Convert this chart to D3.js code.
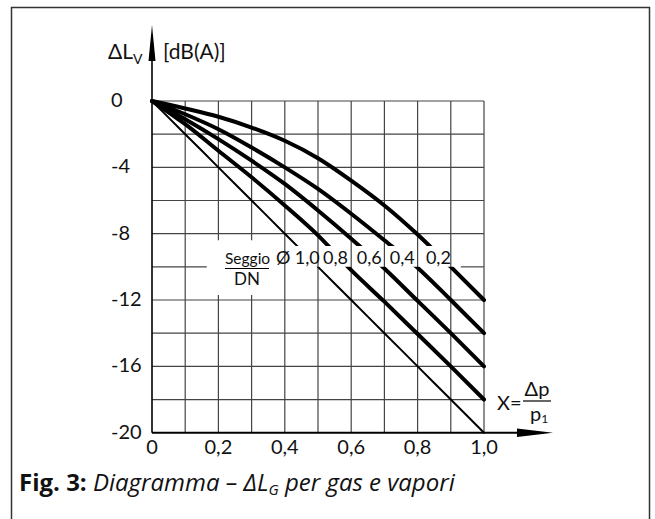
<html>
<head>
<meta charset="utf-8">
<title>Diagramma</title>
<style>
  body { margin: 0; background: #fff; }
  svg { display: block; }
  .lab { font-family: Lato, "Noto Sans", sans-serif; fill: #111; }
  .cap { font-family: "Open Sans", sans-serif; fill: #111; }
</style>
</head>
<body>
<script src="https://cdn.jsdelivr.net/npm/d3@7/dist/d3.min.js"></script>
<script>
var W = 655, H = 519;

// dati
var xVals   = [0, 0.1, 0.2, 0.3, 0.4, 0.5, 0.6, 0.7, 0.8, 0.9, 1.0];
var seat10  = [0, -2, -4, -6, -8, -10, -12, -14, -16, -18, -20];
var seat08  = [0, -1.4, -3.0, -4.6, -6.3, -8.1, -10.2, -12.1, -14.05, -16, -18];
var seat06  = [0, -1.1, -2.3, -3.6, -5.0, -6.6, -8.3, -10.1, -12.05, -14, -16];
var seat04  = [0, -0.8, -1.7, -2.8, -4.0, -5.3, -6.8, -8.4, -10.05, -12, -14];
var seat02  = [0, -0.45, -0.95, -1.6, -2.4, -3.45, -4.8, -6.3, -8.05, -10, -12];
var seatNames = ["1,0", "0,8", "0,6", "0,4", "0,2"];
var xTicks  = [0, 0.2, 0.4, 0.6, 0.8, 1.0];
var xTickLabels = ["0", "0,2", "0,4", "0,6", "0,8", "1,0"];
var yTicks  = [0, -4, -8, -12, -16, -20];
var yTickLabels = ["0", "-4", "-8", "-12", "-16", "-20"];

var series = [seat10, seat08, seat06, seat04, seat02];
var widths = [2, 4, 4, 4, 4];
var labelX = [0.43, 0.515, 0.617, 0.716, 0.825];   // dove stanno le etichette

var svg = d3.select("body").append("svg")
  .attr("width", W)
  .attr("height", H);

// cornice
svg.append("rect")
  .attr("x", 11.5).attr("y", 7.5)
  .attr("width", 638).attr("height", 530)
  .attr("fill", "none").attr("stroke", "#333").attr("stroke-width", 1.5);

var x = d3.scaleLinear().domain([0, 1]).range([152, 484]);
var y = d3.scaleLinear().domain([0, -20]).range([101, 432.7]);

// griglia
var grid = svg.append("g").attr("stroke", "#444").attr("stroke-width", 1.2);
d3.range(1, 11).forEach(function(i) {
  var v = i / 10;
  if (i == 2 || i == 3) {
    grid.append("line").attr("x1", x(v)).attr("x2", x(v)).attr("y1", y(0)).attr("y2", y(-8.4));
    grid.append("line").attr("x1", x(v)).attr("x2", x(v)).attr("y1", y(-11.7)).attr("y2", y(-20));
  } else {
    grid.append("line").attr("x1", x(v)).attr("x2", x(v)).attr("y1", y(0)).attr("y2", y(-20));
  }
});
d3.range(0, 10).forEach(function(i) {
  var v = -2 * i;
  if (v == -10) {
    grid.append("line").attr("x1", x(0)).attr("x2", x(0.165)).attr("y1", y(v)).attr("y2", y(v));
    grid.append("line").attr("x1", x(0.93)).attr("x2", x(1)).attr("y1", y(v)).attr("y2", y(v));
  } else {
    grid.append("line").attr("x1", x(0)).attr("x2", x(1)).attr("y1", y(v)).attr("y2", y(v));
  }
});

// assi con frecce
svg.append("line").attr("x1", x(0)).attr("x2", x(0)).attr("y1", y(-20)).attr("y2", 40)
  .attr("stroke", "#000").attr("stroke-width", 1.6);
svg.append("path").attr("d", "M152,25 L148.5,61 L155.5,61 Z").attr("fill", "#000");
svg.append("line").attr("x1", x(0)).attr("x2", 530).attr("y1", y(-20)).attr("y2", y(-20))
  .attr("stroke", "#000").attr("stroke-width", 2);
svg.append("path").attr("d", "M553,432.7 L517,428.5 L517,437 Z").attr("fill", "#000");

// curve, interrotte dove stanno le etichette
var clip = svg.append("clipPath").attr("id", "gap");
clip.append("rect").attr("x", 140).attr("y", 90).attr("width", 360).attr("height", y(-8.75) - 90);
clip.append("rect").attr("x", 140).attr("y", y(-10)).attr("width", 360).attr("height", 200);

var line = d3.line()
  .x(function(d, i) { return x(xVals[i]); })
  .y(function(d) { return y(d); })
  .curve(d3.curveMonotoneX);

svg.append("g").attr("clip-path", "url(#gap)")
  .selectAll("path")
  .data(series)
  .enter()
  .append("path")
  .attr("d", line)
  .attr("fill", "none")
  .attr("stroke", "#000")
  .attr("stroke-width", function(d, i) { return widths[i]; })
  .attr("stroke-linecap", "round");

// testi
svg.selectAll(".xt").data(xTicks).enter().append("text")
  .attr("class", "lab")
  .attr("x", function(d) { return x(d); })
  .attr("y", 454)
  .attr("text-anchor", "middle")
  .attr("font-size", 20)
  .text(function(d, i) { return xTickLabels[i]; });

svg.selectAll(".yt").data(yTicks).enter().append("text")
  .attr("class", "lab")
  .attr("x", 111)
  .attr("y", function(d) { return y(d) + 6; })
  .attr("font-size", 20)
  .text(function(d, i) { return yTickLabels[i]; });

var yl = svg.append("text").attr("class", "lab").attr("x", 108).attr("y", 59).attr("font-size", 21);
yl.append("tspan").text("ΔL");
yl.append("tspan").attr("font-size", 14).attr("dy", 5).text("V");
svg.append("text").attr("class", "lab").attr("x", 163).attr("y", 59).attr("font-size", 21).text("[dB(A)]");

// X = Δp / p1
svg.append("text").attr("class", "lab").attr("x", 497).attr("y", 410).attr("font-size", 20).text("X=");
svg.append("text").attr("class", "lab").attr("x", 537).attr("y", 396).attr("font-size", 20)
  .attr("text-anchor", "middle").text("Δp");
svg.append("line").attr("x1", 523).attr("x2", 551).attr("y1", 401).attr("y2", 401)
  .attr("stroke", "#000").attr("stroke-width", 1.2);
var p1 = svg.append("text").attr("class", "lab").attr("x", 530).attr("y", 421).attr("font-size", 20);
p1.append("tspan").text("p");
p1.append("tspan").attr("font-size", 12).attr("dy", 2).text("1");

// Seggio / DN
svg.append("text").attr("class", "lab").attr("x", 225).attr("y", 264).attr("font-size", 15.5).text("Seggio");
svg.append("line").attr("x1", 225).attr("x2", 269).attr("y1", 268.5).attr("y2", 268.5)
  .attr("stroke", "#000").attr("stroke-width", 1);
svg.append("text").attr("class", "lab").attr("x", 247).attr("y", 285).attr("font-size", 17)
  .attr("text-anchor", "middle").text("DN");
svg.append("text").attr("class", "lab").attr("x", 276).attr("y", 264).attr("font-size", 18).text("Ø");
svg.selectAll(".sn").data(seatNames).enter().append("text")
  .attr("class", "lab")
  .attr("x", function(d, i) { return x(labelX[i]); })
  .attr("y", 264)
  .attr("font-size", 18)
  .text(function(d) { return d; });

// didascalia
var cap = svg.append("text").attr("class", "cap").attr("x", 19).attr("y", 491).attr("font-size", 24);
cap.append("tspan").attr("font-weight", "bold").text("Fig. 3: ");
cap.append("tspan").attr("font-style", "italic").text("Diagramma – ΔL");
cap.append("tspan").attr("font-style", "italic").attr("font-size", 15).attr("dy", 4).text("G");
cap.append("tspan").attr("font-style", "italic").attr("dy", -4).text(" per gas e vapori");
</script>
</body>
</html>
